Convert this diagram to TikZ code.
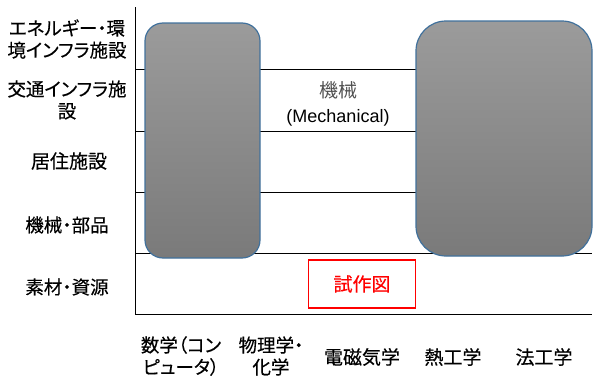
\documentclass[tikz,border=0pt]{standalone}
\usepackage{fontspec}
\setmainfont{Liberation Sans}
\newfontfamily\jp[RawFeature=+palt, FakeBold=0.35]{Noto Sans CJK JP}
\newfontfamily\jpw[FakeBold=0.35]{Noto Sans CJK JP}
\newfontfamily\jpthin{Noto Sans CJK JP}
\definecolor{boxedge}{RGB}{65,113,156}
\definecolor{boxtop}{RGB}{155,155,155}
\definecolor{boxbot}{RGB}{122,122,122}
\definecolor{midgray}{RGB}{80,80,80}
\tikzset{
  lbl/.style={font=\fontsize{18.5}{22}\selectfont\jp, align=center, inner sep=0pt},
  lblw/.style={font=\fontsize{19}{22}\selectfont\jpw, align=center, inner sep=0pt},
  grid/.style={line width=0.9pt, black},
  pillar/.style={draw=boxedge, line width=1.2pt, top color=boxtop, bottom color=boxbot},
}
\begin{document}
\begin{tikzpicture}[x=1pt,y=-1pt]
\useasboundingbox (0,0) rectangle (597,383);
% axes and grid
\coordinate (axtop) at (135,7);
\coordinate (axbot) at (135,314);
\coordinate (gr1) at (592,69);
\coordinate (gr2) at (592,131);
\coordinate (gr3) at (592,192);
\coordinate (gr4) at (592,253);
\coordinate (gr5) at (592,314);
\draw[grid] (axtop) -- (axbot) -- (gr5);
\draw[grid] (135,69) -- (gr1);
\draw[grid] (135,131) -- (gr2);
\draw[grid] (135,192) -- (gr3);
\draw[grid] (135,253) -- (gr4);
% pillars
\draw[pillar, rounded corners=18pt] (145,23) rectangle (260,258);
\draw[pillar, rounded corners=30pt] (416,21) rectangle (592,256);
% center label
\node[lblw, font=\fontsize{19}{22}\selectfont\jpthin, text=midgray] (kikai) at (338,90) {機械};
\node[font=\fontsize{18}{21}\selectfont, inner sep=0pt] (mech) at (338,118) {(Mechanical)};
% red box
\node[draw=red, line width=1.2pt, minimum width=107pt, minimum height=48pt, inner sep=0pt,
      lblw, text=red] (shisaku) at (362,284) {試作図};
% row labels
\node[lbl] (r1) at (67,39) {エネルギー・環\\境インフラ施設};
\node[lbl] (r2) at (67,100) {交通インフラ施\\設};
\node[lblw] (r3) at (69,161) {居住施設};
\node[lbl] (r4) at (67,225) {機械・部品};
\node[lbl] (r5) at (67,287) {素材・資源};
% column labels
\node[lbl] (c1) at (181,356) {数学（コン\\ピュータ）};
\node[lbl] (c2) at (271,356) {物理学・\\化学};
\node[lblw] (c3) at (362,357) {電磁気学};
\node[lblw] (c4) at (453,357) {熱工学};
\node[lblw] (c5) at (544,357) {法工学};
\end{tikzpicture}
\end{document}
